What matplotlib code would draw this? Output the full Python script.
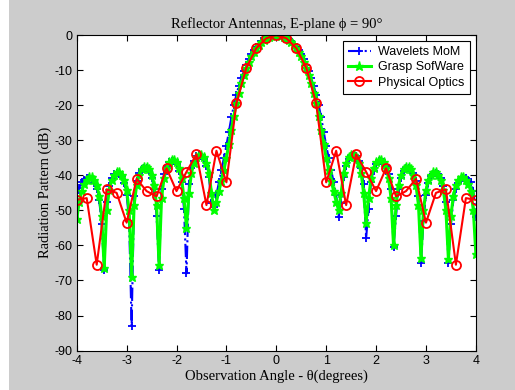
import numpy as np
import matplotlib
matplotlib.use('Agg')
import matplotlib.pyplot as plt
from matplotlib.patches import Rectangle

# sampling grid of the dense curves (deg)
theta = np.round(np.arange(-4.0, 4.0001, 0.05), 2)

# Wavelets MoM (dB)
mom = [-45.0, -43.5, -42.0, -41.2, -40.9, -40.9, -41.3, -42.2, -43.9, -47.0, -54.0,
       -67.0, -47.5, -43.0, -40.8, -39.6, -39.3, -39.5, -40.3, -42.2, -45.5, -53.0,
       -83.0, -46.0, -41.5, -39.3, -38.1, -37.8, -38.0, -38.8, -40.7, -44.0, -51.5,
       -67.0, -44.0, -39.5, -37.3, -36.1, -35.8, -36.0, -36.8, -38.7, -42.0, -49.5,
       -68.0, -42.5, -38.0, -35.8, -34.6, -34.3, -34.5, -35.3, -37.2, -40.5, -48.0,
       -49.0,
       -45.5, -42.0, -38.5, -35.0, -31.5, -27.5, -23.5, -20.0, -17.0, -14.5, -12.3, -10.3,
       -8.5, -6.9, -5.5, -4.3, -3.3, -2.5, -1.8, -1.25, -0.78, -0.43, -0.19, -0.05,
       0.0,
       -0.05, -0.19, -0.43, -0.78, -1.25, -1.8, -2.5, -3.3, -4.3, -5.5, -6.9, -8.5,
       -10.3, -12.3, -14.5, -17.0, -20.0, -23.5, -27.5, -31.5, -35.0, -38.5, -42.0, -45.5,
       -52.0,
       -48.0, -40.5, -37.2, -35.3, -34.5, -34.3, -34.6, -35.8, -38.0, -42.5, -58.0,
       -49.5, -42.0, -38.7, -36.8, -36.0, -35.8, -36.1, -37.3, -39.5, -44.0, -60.5,
       -51.5, -44.0, -40.7, -38.8, -38.0, -37.8, -38.1, -39.3, -41.5, -46.0, -65.0,
       -53.0, -45.5, -42.2, -40.3, -39.5, -39.3, -39.6, -40.8, -43.0, -47.5, -65.0,
       -54.0, -47.0, -43.9, -42.2, -41.3, -40.9, -40.9, -41.2, -42.0, -44.5, -52.0]

# Grasp software (dB)
grasp = [-52.5, -47.5, -44.5, -42.5, -41.2, -40.6, -40.6, -41.3, -42.9, -45.8, -51.5,
         -66.5, -50.0, -44.3, -41.4, -39.8, -39.1, -39.1, -39.8, -41.4, -44.3, -50.0,
         -69.0, -48.5, -42.8, -39.9, -38.3, -37.6, -37.6, -38.3, -39.9, -42.8, -48.5,
         -65.5, -46.5, -40.8, -37.9, -36.3, -35.6, -35.6, -36.3, -37.9, -40.8, -46.5,
         -55.0, -45.0, -39.3, -36.4, -34.8, -34.1, -34.1, -34.8, -36.4, -39.3, -45.0,
         -50.0,
         -47.5, -44.5, -41.5, -38.5, -35.0, -31.0, -27.0, -23.0, -19.5, -16.5, -13.8, -11.4,
         -9.3, -7.6, -6.0, -4.8, -3.7, -2.85, -2.1, -1.45, -0.9, -0.5, -0.23, -0.06,
         0.0,
         -0.06, -0.23, -0.5, -0.9, -1.45, -2.1, -2.85, -3.7, -4.8, -6.0, -7.6, -9.3,
         -11.4, -13.8, -16.5, -19.5, -23.0, -27.0, -31.0, -35.0, -38.5, -41.5, -44.5, -47.5,
         -50.0,
         -45.0, -39.3, -36.4, -34.8, -34.1, -34.1, -34.8, -36.4, -39.3, -45.0, -53.5,
         -46.5, -40.8, -37.9, -36.3, -35.6, -35.6, -36.3, -37.9, -40.8, -46.5, -60.0,
         -48.5, -42.8, -39.9, -38.3, -37.6, -37.6, -38.3, -39.9, -42.8, -48.5, -63.5,
         -50.0, -44.3, -41.4, -39.8, -39.1, -39.1, -39.8, -41.4, -44.3, -50.0, -64.0,
         -51.5, -45.8, -42.9, -41.3, -40.6, -40.6, -41.2, -42.5, -44.5, -50.0, -62.5]

# Physical optics, coarse sampling
theta_po = [-4.0, -3.8, -3.6, -3.4, -3.2, -3.0, -2.8, -2.6, -2.4, -2.2, -2.0,
            -1.8, -1.6, -1.4, -1.2, -1.0, -0.8, -0.6, -0.4, -0.2, 0.0,
            0.2, 0.4, 0.6, 0.8, 1.0, 1.2, 1.4, 1.6, 1.8, 2.0,
            2.2, 2.4, 2.6, 2.8, 3.0, 3.2, 3.4, 3.6, 3.8, 4.0]
po = [-47.0, -46.5, -65.5, -44.0, -45.0, -53.5, -41.0, -44.5, -46.0, -38.0, -44.5,
      -39.0, -34.0, -48.5, -33.0, -42.0, -19.5, -9.3, -3.7, -0.9, 0.0,
      -0.9, -3.7, -9.3, -19.5, -42.0, -33.0, -48.5, -34.0, -39.0, -44.5,
      -38.0, -46.0, -44.5, -41.0, -53.5, -45.0, -44.0, -65.5, -46.5, -47.0]

serif = ['Liberation Serif', 'DejaVu Serif']
plt.rcParams['font.family'] = ['Liberation Sans', 'DejaVu Sans']
plt.rcParams['axes.unicode_minus'] = False

fig = plt.figure(figsize=(5.15, 3.9), dpi=100, facecolor='#cccccc')
fig.patches.append(Rectangle((0, 0), 9 / 515, 1, transform=fig.transFigure,
                             facecolor='white', edgecolor='none', zorder=-1))
ax = fig.add_axes([0.149, 0.101, 0.775, 0.809])

ax.plot(theta, mom, color='#0000ff', ls='-.', lw=1.5, marker='+', ms=6,
        mew=1.3, label='Wavelets MoM')
ax.plot(theta, grasp, color='#00ff00', ls='-', lw=2.2, marker='*', ms=6.5,
        label='Grasp SofWare')
ax.plot(theta_po, po, color='#ff0000', ls='-', lw=1.5, marker='o', ms=6.5,
        mfc='none', mew=1.3, label='Physical Optics')

ax.set_xlim(-4, 4)
ax.set_ylim(-90, 0)
ax.set_xticks(np.arange(-4, 5, 1))
ax.set_yticks(np.arange(-90, 1, 10))
ax.tick_params(direction='in', top=True, right=True, length=4, width=0.8,
               labelsize=9, pad=3)
for s in ax.spines.values():
    s.set_linewidth(0.8)

ax.set_title('Reflector Antennas, E-plane ϕ = 90°', family=serif, fontsize=10.5, pad=5)
ax.set_xlabel('Observation Angle - θ(degrees)', family=serif, fontsize=10.5, labelpad=2)
ax.set_ylabel('Radiation Pattern (dB)', family=serif, fontsize=10.5, labelpad=2)

leg = ax.legend(loc='upper right', fontsize=9, fancybox=False, framealpha=1,
                edgecolor='black', handlelength=1.8, borderaxespad=0.5,
                labelspacing=0.25, handletextpad=0.6)
leg.get_frame().set_linewidth(0.8)

fig.savefig('out.png', dpi=100, facecolor=fig.get_facecolor())
